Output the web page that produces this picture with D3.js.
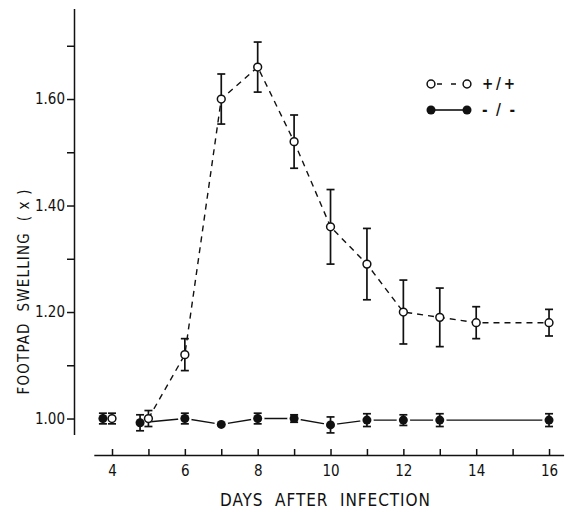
<!DOCTYPE html>
<html>
<head>
<meta charset="utf-8">
<script src="https://cdn.jsdelivr.net/npm/d3@7"></script>
<style>
  html, body { margin: 0; padding: 0; background: #fff; }
  svg { display: block; }
</style>
</head>
<body>
<div id="chart"></div>
<script>
// +/+ (open circles, dashed)
const openDays = [4, 5, 6, 7, 8, 9, 10, 11, 12, 13, 14, 16];
const openMean = [1.00, 1.00, 1.12, 1.60, 1.66, 1.52, 1.36, 1.29, 1.20, 1.19, 1.18, 1.18];
const openErr  = [0.01, 0.015, 0.03, 0.047, 0.047, 0.05, 0.07, 0.067, 0.06, 0.055, 0.03, 0.025];

// -/- (filled circles, solid)
const filledDays = [3.75, 4.77, 6, 7, 8, 9, 10, 11, 12, 13, 16];
const filledMean = [1.00, 0.992, 1.00, 0.989, 1.00, 1.00, 0.988, 0.997, 0.997, 0.997, 0.997];
const filledErr  = [0.01, 0.015, 0.01, 0, 0.01, 0.007, 0.015, 0.012, 0.01, 0.012, 0.012];

const yTicks = [1.0, 1.1, 1.2, 1.3, 1.4, 1.5, 1.6, 1.7];
const yLabelTicks = [1.0, 1.2, 1.4, 1.6];
const xTicks = [4, 5, 6, 7, 8, 9, 10, 11, 12, 13, 14, 15, 16];
const xLabelTicks = [4, 6, 8, 10, 12, 14, 16];
const legendLabels = ["+ / +", "- / -"];

const width = 565, height = 510;
const font = "'DejaVu Sans Condensed', 'DejaVu Sans', sans-serif";
const ink = "#111";

const x = d3.scaleLinear().domain([3.5, 16.4]).range([93.8, 563.6]);
const y = d3.scaleLinear().domain([0.97, 1.77]).range([434.5, 8.5]);

const svg = d3.select("#chart").append("svg")
  .attr("width", width)
  .attr("height", height)
  .attr("font-family", font);

// y axis
const yAxis = svg.append("g")
  .attr("transform", "translate(74,0)")
  .call(d3.axisLeft(y)
    .tickValues(yTicks)
    .tickSize(7)
    .tickSizeOuter(0)
    .tickPadding(2)
    .tickFormat(d => yLabelTicks.some(v => Math.abs(v - d) < 1e-9) ? d.toFixed(2) : ""));
yAxis.selectAll("path, line").attr("stroke", ink).attr("stroke-width", 1.5);
yAxis.selectAll("text").attr("font-size", 15).attr("font-family", font).attr("fill", ink);

// x axis (ticks point up)
const xAxis = svg.append("g")
  .attr("transform", "translate(0,455)")
  .call(d3.axisBottom(x)
    .tickValues(xTicks)
    .tickSize(-6)
    .tickSizeOuter(0)
    .tickPadding(10)
    .tickFormat(d => xLabelTicks.includes(d) ? d : ""));
xAxis.selectAll("path, line").attr("stroke", ink).attr("stroke-width", 1.5);
xAxis.selectAll("text").attr("font-size", 15).attr("font-family", font).attr("fill", ink);

// axis titles (typewriter-style spacing)
svg.append("text")
  .attr("x", 325)
  .attr("y", 506)
  .attr("text-anchor", "middle")
  .attr("font-size", 17)
  .attr("fill", ink)
  .style("white-space", "pre")
  .attr("textLength", 210)
  .attr("lengthAdjust", "spacing")
  .text("DAYS  AFTER  INFECTION");

svg.append("text")
  .attr("transform", "translate(29,292) rotate(-90)")
  .attr("text-anchor", "middle")
  .attr("font-size", 15)
  .attr("fill", ink)
  .style("white-space", "pre")
  .attr("textLength", 205)
  .attr("lengthAdjust", "spacing")
  .text("FOOTPAD  SWELLING  ( x )");

const open = openDays.map((d, i) => ({ day: d, mean: openMean[i], err: openErr[i] }));
const filled = filledDays.map((d, i) => ({ day: d, mean: filledMean[i], err: filledErr[i] }));

const line = d3.line().x(d => x(d.day)).y(d => y(d.mean));

// connecting lines (first point of each series stands alone)
svg.append("path")
  .datum(filled.slice(1))
  .attr("d", line)
  .attr("fill", "none")
  .attr("stroke", ink)
  .attr("stroke-width", 1.4);

// small white gap where the solid line meets each filled marker
svg.append("g")
  .selectAll("circle")
  .data(filled)
  .join("circle")
  .attr("cx", d => x(d.day))
  .attr("cy", d => y(d.mean))
  .attr("r", 6.8)
  .attr("fill", "#fff");

svg.append("path")
  .datum(open.slice(1))
  .attr("d", line)
  .attr("fill", "none")
  .attr("stroke", ink)
  .attr("stroke-width", 1.4)
  .attr("stroke-dasharray", "6,5");

// error bars
function errorBars(data) {
  const g = svg.append("g")
    .attr("stroke", ink)
    .attr("stroke-width", 1.7)
    .selectAll("g")
    .data(data.filter(d => d.err > 0))
    .join("g");
  g.append("line")
    .attr("x1", d => x(d.day)).attr("x2", d => x(d.day))
    .attr("y1", d => y(d.mean - d.err)).attr("y2", d => y(d.mean + d.err));
  g.append("line")
    .attr("x1", d => x(d.day) - 4).attr("x2", d => x(d.day) + 4)
    .attr("y1", d => y(d.mean + d.err)).attr("y2", d => y(d.mean + d.err));
  g.append("line")
    .attr("x1", d => x(d.day) - 4).attr("x2", d => x(d.day) + 4)
    .attr("y1", d => y(d.mean - d.err)).attr("y2", d => y(d.mean - d.err));
}
errorBars(filled);
errorBars(open);

// markers
svg.append("g")
  .selectAll("circle")
  .data(filled)
  .join("circle")
  .attr("cx", d => x(d.day))
  .attr("cy", d => y(d.mean))
  .attr("r", 4.5)
  .attr("fill", ink);

svg.append("g")
  .selectAll("circle")
  .data(open)
  .join("circle")
  .attr("cx", d => x(d.day))
  .attr("cy", d => y(d.mean))
  .attr("r", 3.9)
  .attr("fill", "#fff")
  .attr("stroke", ink)
  .attr("stroke-width", 1.5);

// legend
const legend = svg.append("g").attr("transform", "translate(431,84)");
legend.append("line")
  .attr("x1", 6).attr("x2", 26).attr("y1", 0).attr("y2", 0)
  .attr("stroke", ink).attr("stroke-width", 1.5)
  .attr("stroke-dasharray", "5,9");
legend.selectAll("circle.o")
  .data([0, 36])
  .join("circle")
  .attr("cx", d => d).attr("cy", 0).attr("r", 3.9)
  .attr("fill", "#fff").attr("stroke", ink).attr("stroke-width", 1.5);
legend.append("line")
  .attr("x1", 4).attr("x2", 32).attr("y1", 26).attr("y2", 26)
  .attr("stroke", ink).attr("stroke-width", 1.6);
legend.selectAll("circle.f")
  .data([0, 36])
  .join("circle")
  .attr("cx", d => d).attr("cy", 26).attr("r", 4.5)
  .attr("fill", ink);
legend.selectAll("text")
  .data(legendLabels)
  .join("text")
  .attr("x", 51)
  .attr("y", (d, i) => i * 26 + 5)
  .attr("font-size", 15)
  .attr("font-weight", "bold")
  .attr("fill", ink)
  .attr("textLength", 33)
  .attr("lengthAdjust", "spacing")
  .text(d => d);
</script>
</body>
</html>
